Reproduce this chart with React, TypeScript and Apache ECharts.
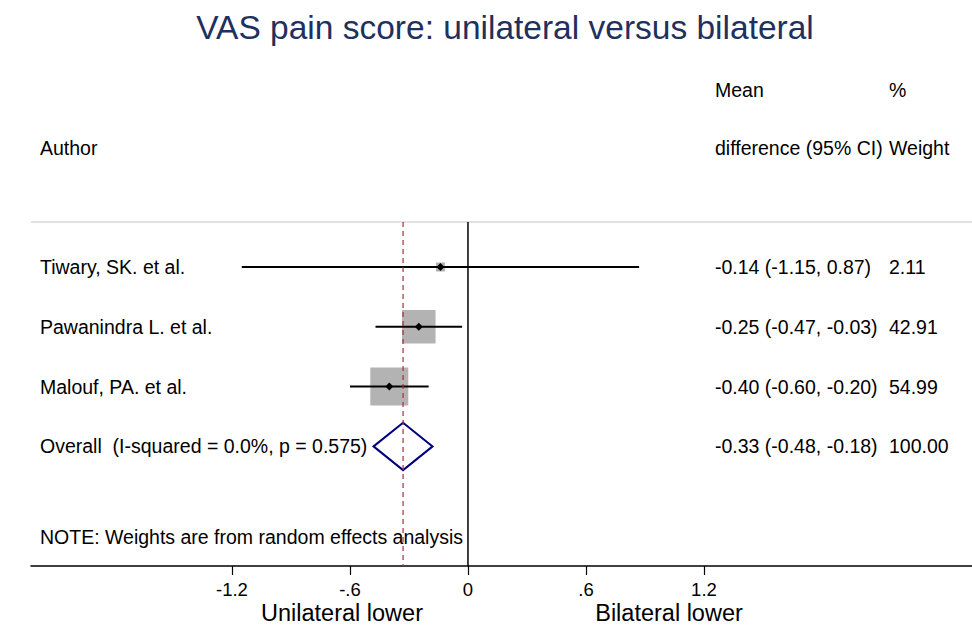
import React, { useEffect, useRef } from "react";
import * as echarts from "echarts";

const titleText = "VAS pain score: unilateral versus bilateral";
const headerMean = "Mean";
const headerDiff = "difference (95% CI)";
const headerPct = "%";
const headerWeight = "Weight";
const headerAuthor = "Author";
const studies = ["Tiwary, SK. et al.", "Pawanindra L. et al.", "Malouf, PA. et al."];
const means = [-0.14, -0.25, -0.4];
const lows = [-1.15, -0.47, -0.6];
const highs = [0.87, -0.03, -0.2];
const weights = [2.11, 42.91, 54.99];
const overallLabel = "Overall  (I-squared = 0.0%, p = 0.575)";
const overallMean = -0.33;
const overallLow = -0.48;
const overallHigh = -0.18;
const overallWeight = 100.0;
const noteText = "NOTE: Weights are from random effects analysis";
const tickValues = [-1.2, -0.6, 0, 0.6, 1.2];
const tickLabels = ["-1.2", "-.6", "0", ".6", "1.2"];
const leftAxisTitle = "Unilateral lower";
const rightAxisTitle = "Bilateral lower";

const FONT = "'Liberation Sans', Arial, Helvetica, sans-serif";
const ROW0 = 45;
const ROWSTEP = 59.8;
const rowY = (i: number) => ROW0 + i * ROWSTEP;
const fmt = (v: number) => v.toFixed(2);
const ciText = (m: number, lo: number, hi: number) => `${fmt(m)} (${fmt(lo)}, ${fmt(hi)})`;

export default function App() {
  const ref = useRef<HTMLDivElement>(null);
  useEffect(() => {
    if (!ref.current) return;
    const chart = echarts.init(ref.current, undefined, { renderer: "svg" });

    const gridTop = 222;
    const rowPix = (i: number) => gridTop + rowY(i);

    const txt = (text: string, x: number, y: number, size = 19.5, align = "left", fill = "#000") => ({
      type: "text",
      x,
      y,
      silent: true,
      style: { text, fontSize: size, fontFamily: FONT, fill, align, verticalAlign: "middle" },
    });

    const graphics: any[] = [
      txt(titleText, 505, 27, 33.5, "center", "#1f305e"),
      txt(headerMean, 715, 90),
      txt(headerPct, 889, 90),
      txt(headerAuthor, 40, 148),
      txt(headerDiff, 715, 148),
      txt(headerWeight, 889, 148),
      {
        type: "line",
        silent: true,
        shape: { x1: 31, y1: gridTop, x2: 972, y2: gridTop },
        style: { stroke: "#c4c4c4", lineWidth: 1.2 },
      },
    ];
    studies.forEach((s, i) => {
      graphics.push(txt(s, 40, rowPix(i)));
      graphics.push(txt(ciText(means[i], lows[i], highs[i]), 715, rowPix(i)));
      graphics.push(txt(fmt(weights[i]), 889, rowPix(i)));
    });
    const oi = studies.length;
    graphics.push(txt(overallLabel, 40, rowPix(oi)));
    graphics.push(txt(ciText(overallMean, overallLow, overallHigh), 715, rowPix(oi)));
    graphics.push(txt(fmt(overallWeight), 889, rowPix(oi)));
    graphics.push(txt(noteText, 40, 537));
    graphics.push(txt(leftAxisTitle, 342, 613, 23.5, "center"));
    graphics.push(txt(rightAxisTitle, 669, 613, 23.5, "center"));

    const studyData = studies.map((s, i) => [means[i], lows[i], highs[i], weights[i], rowY(i)]);
    const overallData = [[overallMean, overallLow, overallHigh, overallWeight, rowY(oi)]];
    const refData = [
      [0, 0],
      [overallMean, 1],
    ];

    const option: any = {
      animation: false,
      backgroundColor: "#fff",
      grid: { left: 31, right: 0, top: gridTop, bottom: 59, containLabel: false },
      xAxis: {
        type: "value",
        min: -2.2217,
        max: 2.5627,
        splitLine: { show: false },
        axisLine: { show: true, onZero: false, lineStyle: { color: "#000", width: 1.5 } },
        axisTick: {
          show: true,
          customValues: tickValues,
          length: 9,
          lineStyle: { color: "#000", width: 1.2 },
        },
        axisLabel: {
          show: true,
          customValues: tickValues,
          margin: 14,
          fontSize: 18.5,
          lineHeight: 18,
          fontFamily: FONT,
          color: "#000",
          formatter: (v: number) => {
            const k = tickValues.findIndex((t) => Math.abs(t - v) < 1e-6);
            return k >= 0 ? tickLabels[k] : "";
          },
        },
      },
      yAxis: { type: "value", min: 0, max: 344, inverse: true, show: false },
      graphic: graphics,
      series: [
        {
          type: "custom",
          z: 2,
          silent: true,
          data: studyData,
          renderItem: (params: any, api: any) => {
            const m = api.value(0);
            const lo = api.value(1);
            const hi = api.value(2);
            const w = api.value(3);
            const y = api.value(4);
            const c = api.coord([m, y]);
            const pl = api.coord([lo, y]);
            const ph = api.coord([hi, y]);
            const s = Math.max(9, 5.12 * Math.sqrt(w));
            return {
              type: "group",
              children: [
                { type: "rect", shape: { x: c[0] - s / 2, y: c[1] - s / 2, width: s, height: s }, style: { fill: "#b3b3b3" } },
                { type: "line", shape: { x1: pl[0], y1: pl[1], x2: ph[0], y2: ph[1] }, style: { stroke: "#000", lineWidth: 2 } },
                {
                  type: "polygon",
                  shape: { points: [[c[0] - 4, c[1]], [c[0], c[1] - 4], [c[0] + 4, c[1]], [c[0], c[1] + 4]] },
                  style: { fill: "#000" },
                },
              ],
            };
          },
        },
        {
          type: "custom",
          z: 3,
          silent: true,
          data: overallData,
          renderItem: (params: any, api: any) => {
            const m = api.value(0);
            const lo = api.value(1);
            const hi = api.value(2);
            const y = api.value(4);
            const c = api.coord([m, y]);
            const pl = api.coord([lo, y]);
            const ph = api.coord([hi, y]);
            const h = 23.7;
            return {
              type: "polygon",
              shape: { points: [[pl[0], pl[1]], [c[0], c[1] - h], [ph[0], ph[1]], [c[0], c[1] + h]] },
              style: { fill: "none", stroke: "#000080", lineWidth: 2 },
            };
          },
        },
        {
          type: "custom",
          z: 4,
          silent: true,
          data: refData,
          renderItem: (params: any, api: any) => {
            const x = api.value(0);
            const kind = api.value(1);
            const a = api.coord([x, 0]);
            const b = api.coord([x, 344]);
            return {
              type: "line",
              shape: { x1: a[0], y1: a[1], x2: b[0], y2: b[1] },
              style:
                kind === 0
                  ? { stroke: "#000", lineWidth: 1.5 }
                  : { stroke: "#a3303a", lineWidth: 1.2, lineDash: [5, 4] },
            };
          },
        },
      ],
    };
    chart.setOption(option);
    return () => chart.dispose();
  }, []);

  return <div ref={ref} style={{ position: "fixed", left: 0, top: 0, width: 972, height: 625 }} />;
}
